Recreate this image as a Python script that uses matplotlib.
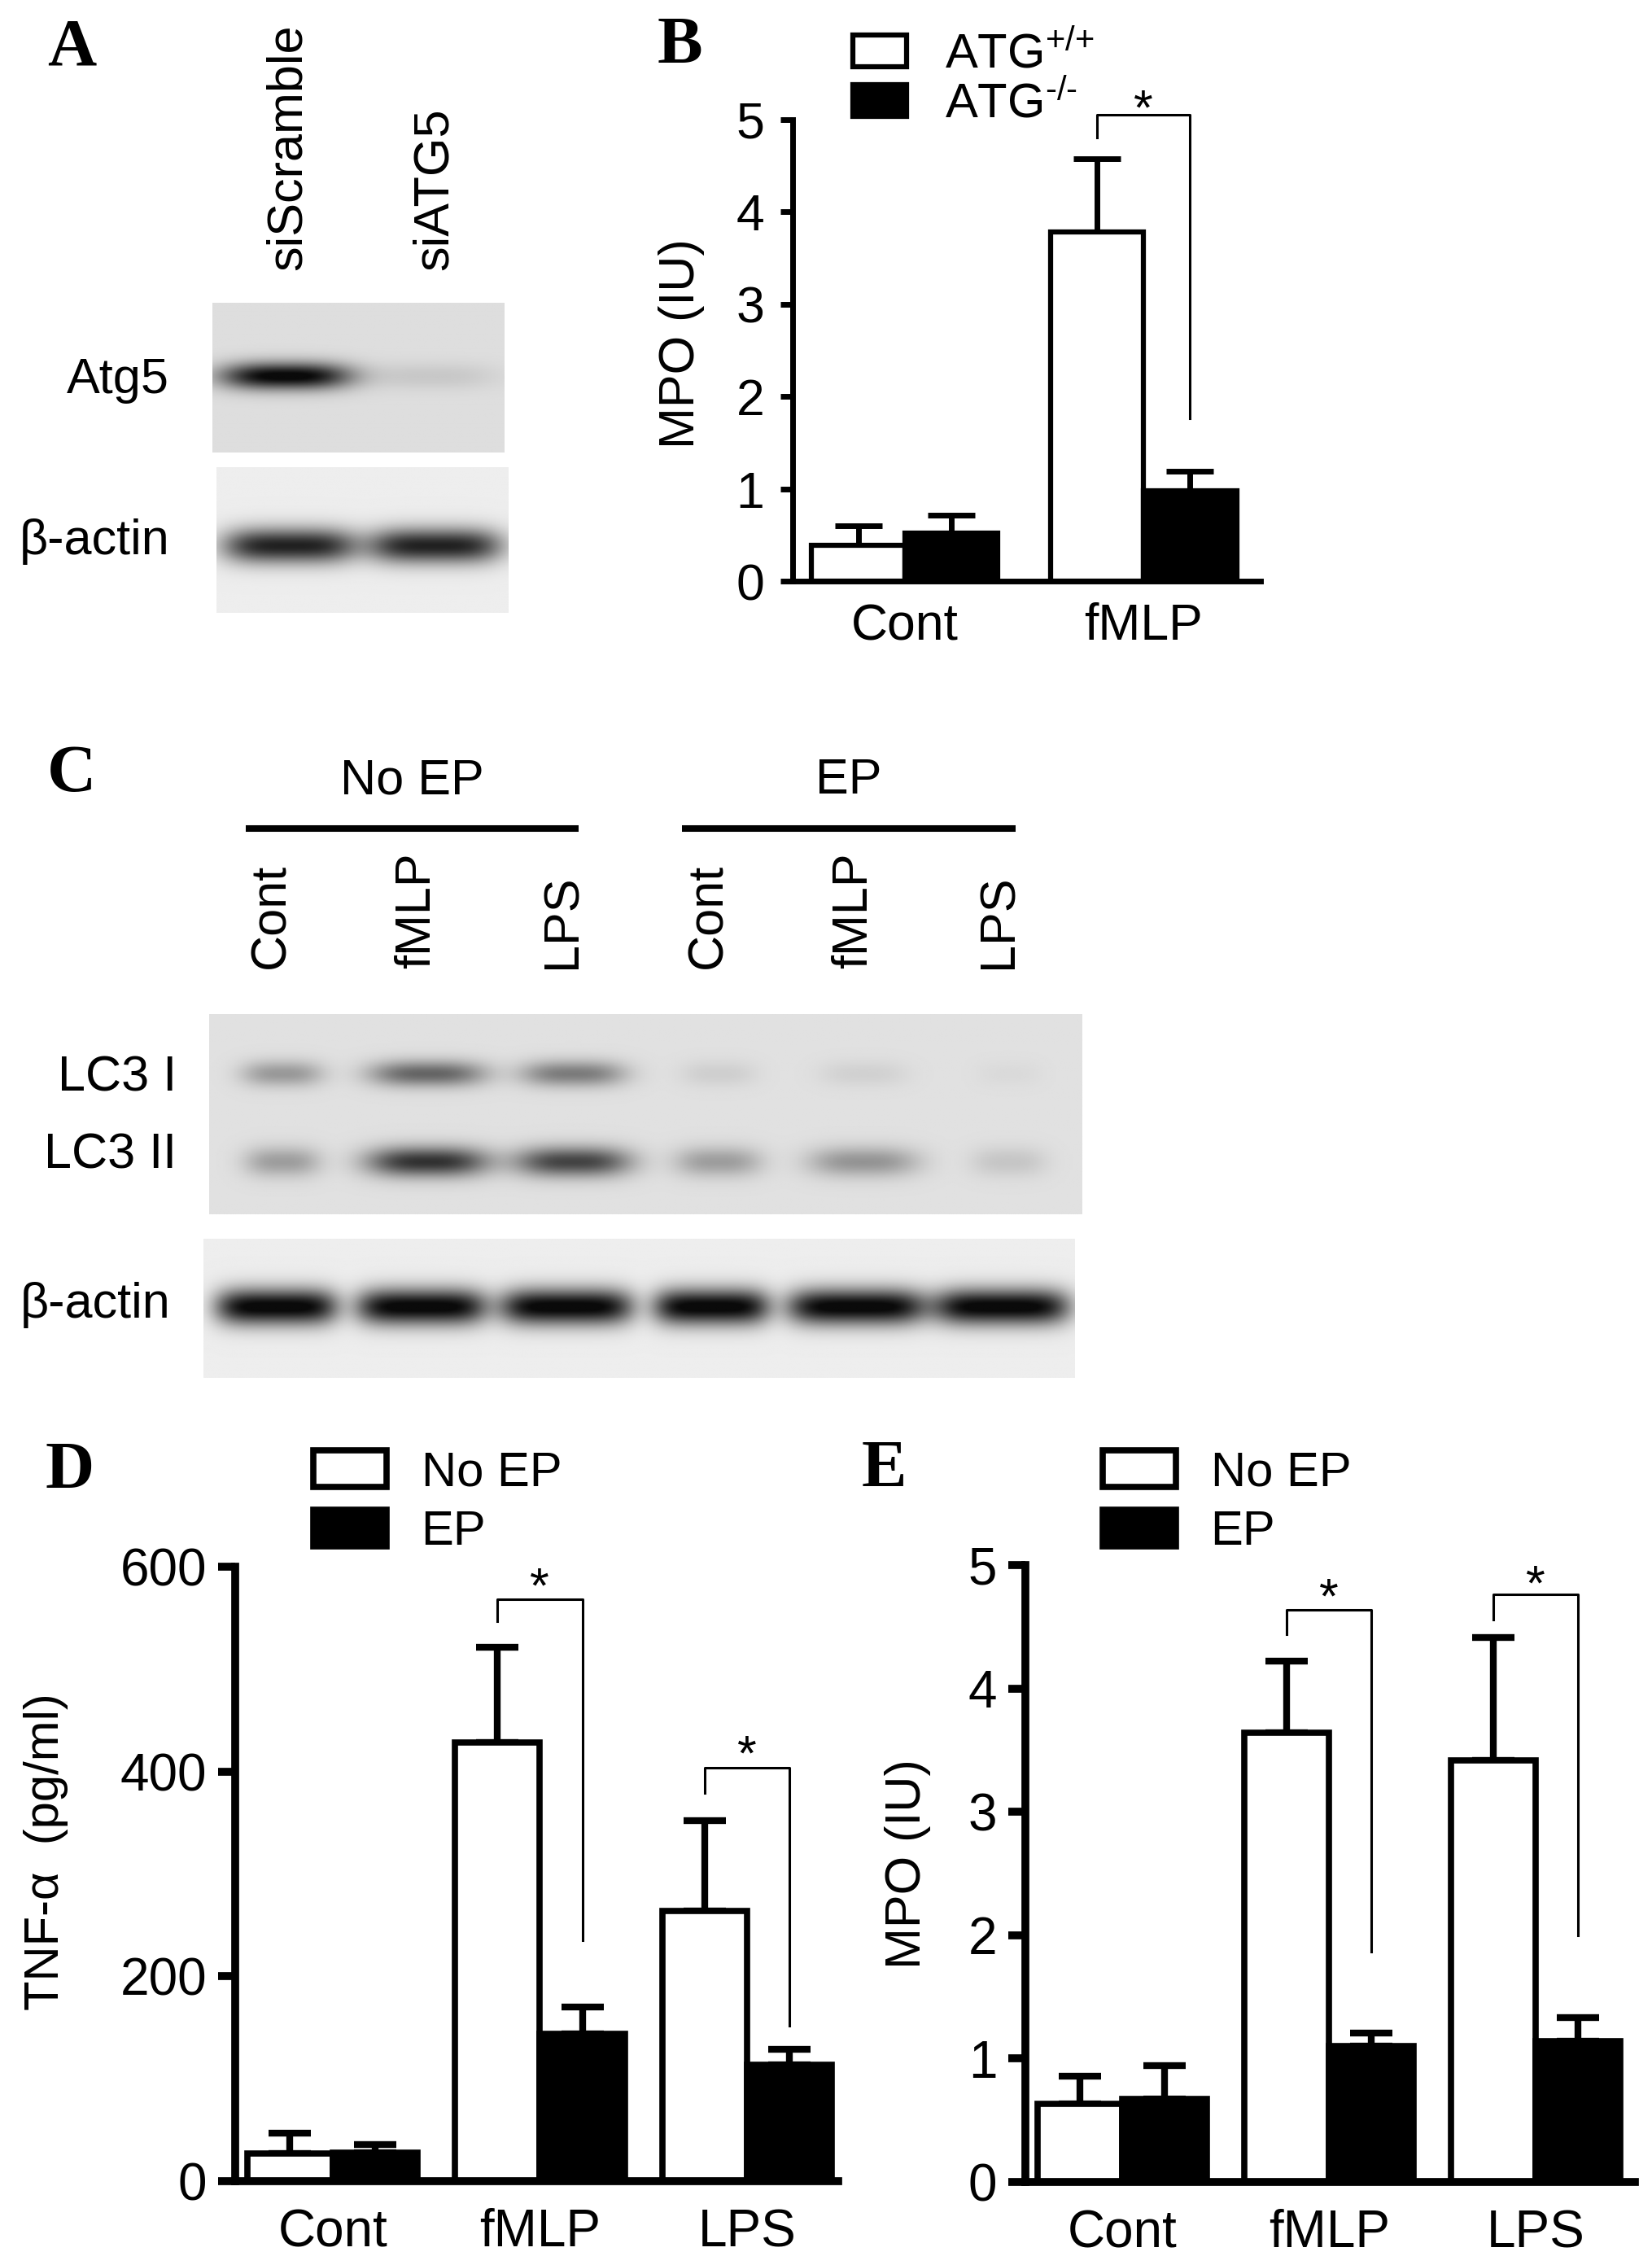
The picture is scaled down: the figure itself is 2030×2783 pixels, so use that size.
import numpy as np
import matplotlib
matplotlib.use('Agg')
import matplotlib.pyplot as plt
from matplotlib.patches import Patch
from matplotlib.transforms import offset_copy

plt.rcParams['font.family'] = ['Liberation Sans', 'DejaVu Sans']
plt.rcParams['mathtext.fontset'] = 'custom'
plt.rcParams['mathtext.rm'] = 'Liberation Sans'
plt.rcParams['mathtext.it'] = 'Liberation Sans:italic'

# ---- data ----
# panel A blot (band darkness 0..1)
lanes_a = ['siScramble', 'siATG5']
atg5_band = [1.0, 0.10]
actin_a_band = [0.86, 0.86]

# panel C blot
lanes_c = ['Cont', 'fMLP', 'LPS', 'Cont', 'fMLP', 'LPS']
groups_c = ['No EP', 'EP']
lc3i_band = [0.32, 0.55, 0.45, 0.08, 0.07, 0.03]
lc3ii_band = [0.30, 0.78, 0.70, 0.30, 0.34, 0.12]
actin_c_band = [1.0, 1.0, 1.0, 1.0, 1.0, 1.0]

# panel B
cats_b = ['Cont', 'fMLP']
atg_wt = [0.39, 3.78]
atg_wt_sem = [0.21, 0.80]
atg_ko = [0.52, 0.98]
atg_ko_sem = [0.19, 0.21]

# panel D
cats_de = ['Cont', 'fMLP', 'LPS']
tnf_noep = [27, 428, 264]
tnf_noep_sem = [20, 93, 88]
tnf_ep = [28, 144, 114]
tnf_ep_sem = [8, 26, 15]

# panel E
mpo_noep = [0.63, 3.64, 3.42]
mpo_noep_sem = [0.23, 0.58, 0.99]
mpo_ep = [0.67, 1.10, 1.14]
mpo_ep_sem = [0.27, 0.11, 0.19]

# significance brackets: (group, left leg bottom, top, right leg bottom, star)
sig_b = [(1, 4.81, 5.05, 1.76, 5.27)]
sig_d = [(1, 547, 568, 235, 594), (2, 379, 404, 152, 430)]
sig_e = [(1, 4.44, 4.64, 1.87, 4.85), (2, 4.56, 4.76, 2.00, 4.96)]

W, H = 2031, 2783


def fbox(x0, y0, x1, y1):
    return [x0 / W, 1 - y1 / H, (x1 - x0) / W, (y1 - y0) / H]


def draw_blot(ax, rows, bg, sharp=3):
    n = len(rows[0][0])
    xs = np.linspace(0, n, 80 * n)
    ys = np.linspace(0, 1, 240)
    img = np.full((len(ys), len(xs)), bg)
    for amps, yc, sy, hw in rows:
        py = np.exp(-((ys - yc) / sy) ** 2)
        for i, (a, w) in enumerate(zip(amps, hw)):
            px = np.exp(-np.abs((xs - (i + 0.5)) / w) ** sharp)
            img -= bg * a * np.outer(py, px)
    img = np.clip(img, 0.04, 1)
    ax.imshow(img, cmap='gray', vmin=0, vmax=1, extent=(0, n, 1, 0),
              aspect='auto', interpolation='bilinear')
    ax.set_xlim(0, n)
    ax.set_ylim(1, 0)
    ax.axis('off')


def bar_panel(ax, cats, m1, s1, m2, s2, width, ylim, yticks, sigs, st):
    x = np.arange(len(cats))
    ax.bar(x - width / 2, m1, width, color='white', edgecolor='black',
           linewidth=st['edge'], zorder=2)
    ax.bar(x + width / 2, m2, width, color='black', edgecolor='black',
           linewidth=st['edge'], zorder=2)
    for xs, m, s in [(x - width / 2, m1, s1), (x + width / 2, m2, s2)]:
        ax.errorbar(xs, m, yerr=[np.zeros(len(s)), s], fmt='none', ecolor='black',
                    elinewidth=st['err'], capsize=st['cap'], capthick=st['err'], zorder=1)
    ax.set_xlim(*st['xlim'])
    ax.set_ylim(*ylim)
    ax.set_yticks(yticks)
    ax.set_xticks(x)
    ax.set_xticklabels(cats)
    for s in ['top', 'right']:
        ax.spines[s].set_visible(False)
    for s in ['left', 'bottom']:
        ax.spines[s].set_linewidth(st['spine'])
        ax.spines[s].set_capstyle('projecting')
    ax.tick_params(axis='y', length=st['tlen'], width=st['spine'], pad=st['ypad'],
                   labelsize=st['fs'])
    ax.tick_params(axis='x', length=0, pad=st['xpad'], labelsize=st['fs'])
    star_tr = offset_copy(ax.transData, fig=ax.figure, y=-36, units='dots')
    for g, yl, yt, yr, ys in sigs:
        xl, xr = g - width / 2, g + width / 2
        ax.plot([xl, xl, xr, xr], [yl, yt, yt, yr], color='black', lw=2.2,
                clip_on=False, zorder=3)
        ax.text(g, ys, '*', transform=star_tr, ha='center', va='baseline',
                fontsize=44, clip_on=False)


fig = plt.figure(figsize=(W / 100, H / 100), dpi=100)

# ---- panel A ----
axA1 = fig.add_axes(fbox(261, 372, 620, 556))
axA2 = fig.add_axes(fbox(266, 574, 625, 753))
draw_blot(axA1, [(atg5_band, 0.49, 0.09, [0.45, 0.46])], 0.87)
draw_blot(axA2, [(actin_a_band, 0.54, 0.12, [0.46, 0.46])], 0.93, sharp=4)
for i, lab in enumerate(lanes_a):
    axA1.text(i + 0.52, 1.217, lab, transform=axA1.get_xaxis_transform(), rotation=90,
              ha='center', va='bottom', fontsize=44)
fig.text(208 / W, 1 - 467 / H, 'Atg5', ha='right', va='center', fontsize=44)
fig.text(208 / W, 1 - 666 / H, 'β-actin', ha='right', va='center', fontsize=44)

# ---- panel C ----
axC1 = fig.add_axes(fbox(257, 1246, 1330, 1492))
axC2 = fig.add_axes(fbox(250, 1522, 1321, 1693))
draw_blot(axC1, [(lc3i_band, 0.30, 0.065, [0.28, 0.40, 0.36, 0.26, 0.30, 0.22]),
                 (lc3ii_band, 0.74, 0.075, [0.26, 0.42, 0.40, 0.30, 0.38, 0.26])], 0.88)
draw_blot(axC2, [(actin_c_band, 0.49, 0.13, [0.42, 0.45, 0.46, 0.40, 0.48, 0.47])],
          0.93, sharp=5)
trC = axC1.get_xaxis_transform()
for i, lab in enumerate(lanes_c):
    axC1.text(i + 0.43, 1.228, lab, transform=trC, rotation=90,
              ha='center', va='bottom', fontsize=44)
for k, g in enumerate(groups_c):
    x0, x1 = 3 * k + 0.25, 3 * k + 2.54
    axC1.plot([x0, x1], [1.927, 1.927], transform=trC, color='black', lw=5.8,
              clip_on=False, solid_capstyle='butt')
    axC1.text((x0 + x1) / 2, 2.163, g, transform=trC, ha='center', va='center',
              fontsize=44)
fig.text(217 / W, 1 - 1325 / H, 'LC3 I', ha='right', va='center', fontsize=44)
fig.text(217 / W, 1 - 1420 / H, 'LC3 II', ha='right', va='center', fontsize=44)
fig.text(210 / W, 1 - 1604 / H, 'β-actin', ha='right', va='center', fontsize=44)

# ---- panel B ----
st_b = dict(edge=4.5, err=5, cap=21, spine=5, tlen=11, ypad=14, xpad=19, fs=45,
            xlim=(-0.47, 1.49))
axB = fig.add_axes(fbox(974, 147, 1549, 714))
bar_panel(axB, cats_b, atg_wt, atg_wt_sem, atg_ko, atg_ko_sem, 0.39, (0, 5),
          range(0, 6), sig_b, st_b)
fig.text(838 / W, 1 - 422 / H, 'MPO (IU)', rotation=90, ha='center', va='center',
         fontsize=44)
hb = [Patch(facecolor='white', edgecolor='black', lw=4.5),
      Patch(facecolor='black', edgecolor='black', lw=4.5)]
fig.legend(hb, ['ATG$^{{+}/{+}}$', 'ATG$^{\u2010/\u2010}$'], loc='upper left',
           bbox_to_anchor=(1048 / W, 1 - 38 / H), frameon=False, fontsize=43,
           borderpad=0, borderaxespad=0, handlelength=1.1, handleheight=0.62,
           handletextpad=0.8, labelspacing=0.05)

# ---- panels D and E ----
st_de = dict(edge=5.5, err=6, cap=19, spine=7, tlen=15, ypad=10, xpad=24, fs=46,
             xlim=(-0.47, 2.44))
axD = fig.add_axes(fbox(289, 1925, 1030, 2680))
bar_panel(axD, cats_de, tnf_noep, tnf_noep_sem, tnf_ep, tnf_ep_sem, 0.41, (0, 600),
          range(0, 601, 200), sig_d, st_de)
fig.text(57 / W, 1 - 2275 / H, 'TNF-α  (pg/ml)', rotation=90, ha='center',
         va='center', fontsize=43)

st_e = dict(st_de, xlim=(-0.47, 2.48))
axE = fig.add_axes(fbox(1260, 1923, 2009, 2681))
bar_panel(axE, cats_de, mpo_noep, mpo_noep_sem, mpo_ep, mpo_ep_sem, 0.41, (0, 5),
          range(0, 6), sig_e, st_e)
fig.text(1115 / W, 1 - 2290 / H, 'MPO (IU)', rotation=90, ha='center', va='center',
         fontsize=44)

for lx in [385, 1355]:
    hd = [Patch(facecolor='white', edgecolor='black', lw=5.5),
          Patch(facecolor='black', edgecolor='black', lw=5.5)]
    fig.legend(hd, ['No EP', 'EP'], loc='upper left',
               bbox_to_anchor=(lx / W, 1 - 1782 / H), frameon=False, fontsize=43,
               borderpad=0, borderaxespad=0, handlelength=1.5, handleheight=0.78,
               handletextpad=0.72, labelspacing=0.3)

# ---- panel letters ----
for lab, x, y in [('A', 58, 79), ('B', 808, 77), ('C', 58, 972), ('D', 56, 1828),
                  ('E', 1059, 1826)]:
    fig.text(x / W, 1 - y / H, lab, ha='left', va='baseline', fontsize=60,
             fontweight='bold', family=['Liberation Serif', 'DejaVu Serif'])

fig.savefig('out.png', dpi=100, facecolor='white')
